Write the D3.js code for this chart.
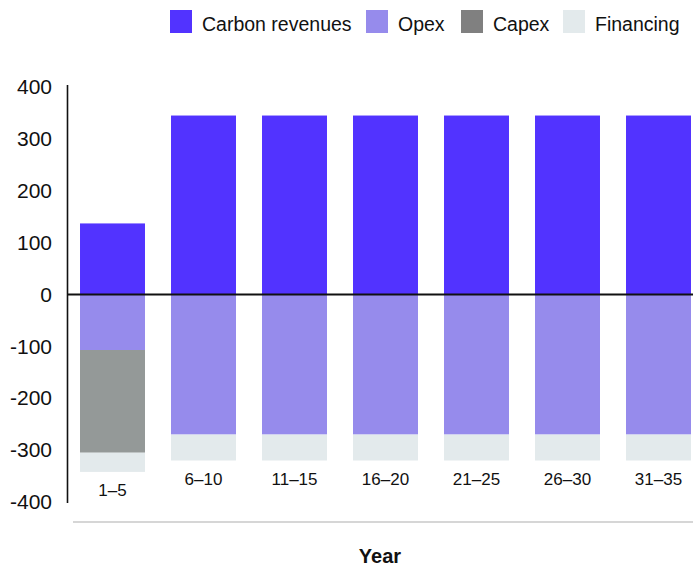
<!DOCTYPE html>
<html><head><meta charset="utf-8">
<script src="https://cdn.jsdelivr.net/npm/d3@7"></script>
<style>body{margin:0;background:#fff}svg{display:block;font-family:"Liberation Sans",Arial,Helvetica,sans-serif}</style>
</head><body><svg id="c" width="693" height="566"></svg>
<script>
const categories = ["1–5","6–10","11–15","16–20","21–25","26–30","31–35"];
const carbonRevenues = [137,345,345,345,345,345,345];
const opex = [-107,-270,-270,-270,-270,-270,-270];
const capex = [-198,0,0,0,0,0,0];
const financing = [-37,-50,-50,-50,-50,-50,-50];
const yTicks = [400,300,200,100,0,-100,-200,-300,-400];
const seriesNames = ["Carbon revenues","Opex","Capex","Financing"];
const barColors = ["#5233ff","#968bec","#949998","#e3eaec"];
const legendColors = ["#5233ff","#968bec","#808080","#e3eaec"];

const keys = ["carbon","opex","capex","financing"];
const rows = categories.map((c,i)=>({cat:c,carbon:carbonRevenues[i],opex:opex[i],capex:capex[i],financing:financing[i]}));
const stack = d3.stack().keys(keys).offset(d3.stackOffsetDiverging)(rows);

const svg = d3.select("#c");
const x = d3.scaleBand().domain(categories).range([67,704]).paddingInner(0.286).paddingOuter(0.143);
const y = d3.scaleLinear().domain([-400,400]).range([502,87]);

// bars
svg.append("g").selectAll("g").data(stack).join("g")
  .attr("fill",(d,i)=>barColors[i])
  .selectAll("rect").data(d=>d).join("rect")
  .attr("x",d=>x(d.data.cat))
  .attr("width",x.bandwidth())
  .attr("y",d=>y(Math.max(d[0],d[1])))
  .attr("height",d=>Math.abs(y(d[0])-y(d[1])));

// y axis
const yAxis = d3.axisLeft(y).tickValues(yTicks).tickSize(0).tickPadding(15).tickFormat(d=>d);
const ga = svg.append("g").attr("transform","translate(67,0)").call(yAxis);
ga.select(".domain").remove();
ga.selectAll("text").attr("font-size",21).attr("fill","#111").attr("font-family","Liberation Sans, Arial, sans-serif");
svg.append("line").attr("x1",67.5).attr("x2",67.5).attr("y1",85).attr("y2",503).attr("stroke","#111").attr("stroke-width",1.6);

// zero line
svg.append("line").attr("x1",67).attr("x2",693).attr("y1",y(0)).attr("y2",y(0)).attr("stroke","#111").attr("stroke-width",1.8);

// x labels under each bar
const totals = rows.map(r=>r.opex+r.capex+r.financing);
svg.append("g").selectAll("text").data(categories).join("text")
  .attr("x",d=>x(d)+x.bandwidth()/2)
  .attr("y",(d,i)=>y(totals[i])+24)
  .attr("text-anchor","middle").attr("font-size",17).attr("fill","#111")
  .text(d=>d);

// bottom rule
svg.append("line").attr("x1",73).attr("x2",693).attr("y1",522).attr("y2",522).attr("stroke","#c8c8c8").attr("stroke-width",1.5);

// axis title
svg.append("text").attr("x",380).attr("y",563).attr("text-anchor","middle")
  .attr("font-size",20).attr("font-weight","bold").attr("fill","#111").text("Year");

// legend
const legX = [170,366,461,563];
const lg = svg.append("g").selectAll("g").data(seriesNames).join("g")
  .attr("transform",(d,i)=>`translate(${legX[i]},10)`);
lg.append("rect").attr("width",22).attr("height",23).attr("fill",(d,i)=>legendColors[i]);
lg.append("text").attr("x",32).attr("y",20.5).attr("font-size",19.5).attr("fill","#111").text(d=>d);
</script></body></html>
